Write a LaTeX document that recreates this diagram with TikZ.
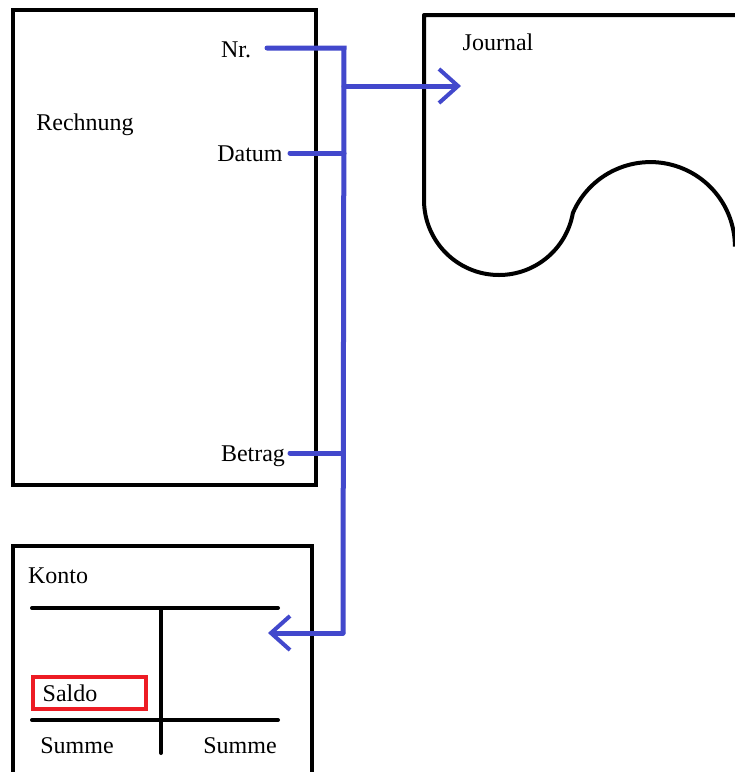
\documentclass[tikz,border=0pt]{standalone}
\usepackage{fontspec}
\setmainfont{Liberation Serif}
\usetikzlibrary{arrows.meta}
\definecolor{flowblue}{RGB}{66,72,204}
\definecolor{saldored}{RGB}{237,28,36}
\tikzset{
  lbl/.style={inner sep=0pt, font=\fontsize{24}{28}\selectfont},
  frame/.style={draw=black, line width=4pt},
  tline/.style={draw=black, line width=4pt, line cap=round},
  flow/.style={draw=flowblue, line width=5pt, line cap=round, line join=miter},
  flowarrow/.style={flow, -{Straight Barb[length=19pt,width=34pt,line width=4pt]}},
}
\begin{document}
\begin{tikzpicture}[x=1pt,y=-1pt]
\useasboundingbox (0,0) rectangle (735,772);
\clip (0,0) rectangle (735,772);
\fill[white] (0,0) rectangle (735,772);

% Rechnung
\node[frame, minimum width=303pt, minimum height=475pt, inner sep=0pt] (rechnung) at (164.5,247.5) {};
\node[lbl] (rtitle) at (85,125) {Rechnung};
\node[lbl] (nr) at (236,50) {Nr.};
\node[lbl] (datum) at (250,154) {Datum};
\node[lbl] (betrag) at (253,456) {Betrag};

% Journal
\draw[line width=4pt, line join=round] (735,15) -- (424,15) -- (424,200)
  arc[start angle=180, end angle=10, radius=75]
  arc[start angle=203.4, end angle=360, radius=84.5];
\node[lbl] (journal) at (498,42) {Journal};

% Konto
\draw[frame] (13,774) -- (13,546) -- (312,546) -- (312,774);
\node[lbl] (konto) at (58,576) {Konto};
\coordinate (tl) at (32,608);
\coordinate (tr) at (278,608);
\coordinate (bl) at (32,720);
\coordinate (br) at (278,720);
\coordinate (vt) at (161,608);
\coordinate (vb) at (161,753);
\draw[tline] (tl) -- (tr);
\draw[tline] (bl) -- (br);
\draw[tline] (vt) -- (vb);
\node[draw=saldored, line width=4pt, minimum width=113pt, minimum height=32pt, inner sep=0pt] (saldobox) at (89.5,693) {};
\node[lbl] (saldo) at (70,693) {Saldo};
\node[lbl] (summeL) at (77,746) {Summe};
\node[lbl] (summeR) at (240,746) {Summe};

% Flow connectors
\coordinate (nrS) at (267,48);
\coordinate (nrJ) at (344,48);
\coordinate (jJ) at (344,86);
\coordinate (jT) at (461,86);
\coordinate (dS) at (290,153);
\coordinate (dJ) at (344,153);
\coordinate (bS) at (290,453);
\coordinate (bJ) at (343,453);
\coordinate (kJ) at (343,633);
\coordinate (kT) at (268,633);

\draw[flow] (nrS) -- (nrJ) -- (kJ);
\draw[flowarrow] (kJ) -- (kT);
\draw[flowarrow] (jJ) -- (jT);
\draw[flow] (dS) -- (dJ);
\draw[flow] (bS) -- (bJ);
\end{tikzpicture}
\end{document}
